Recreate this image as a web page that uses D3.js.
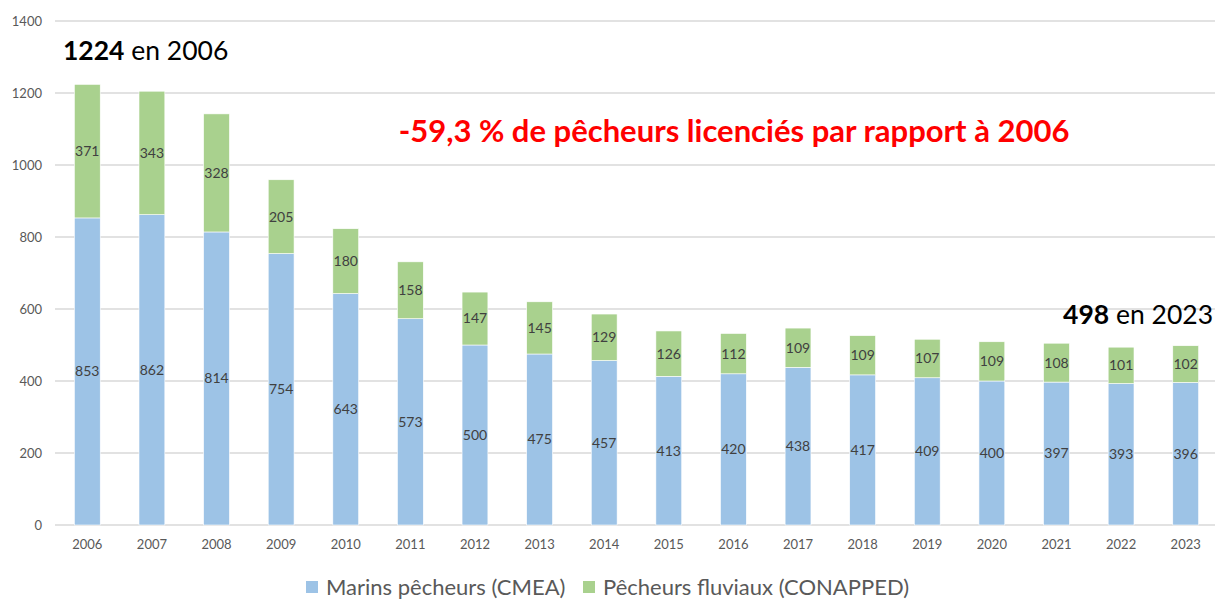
<!DOCTYPE html>
<html>
<head>
<meta charset="utf-8">
<script src="https://cdn.jsdelivr.net/npm/d3@7"></script>
<style>
  body { margin: 0; background: #fff; }
  svg text { font-family: Lato, "Open Sans", sans-serif; }
</style>
</head>
<body>
<div id="chart"></div>
<script>
// data
var years = ['2006','2007','2008','2009','2010','2011','2012','2013','2014','2015','2016','2017','2018','2019','2020','2021','2022','2023'];
var marins = [853, 862, 814, 754, 643, 573, 500, 475, 457, 413, 420, 438, 417, 409, 400, 397, 393, 396];
var fluviaux = [371, 343, 328, 205, 180, 158, 147, 145, 129, 126, 112, 109, 109, 107, 109, 108, 101, 102];
var yTicks = [0, 200, 400, 600, 800, 1000, 1200, 1400];
var seriesNames = ['Marins pêcheurs (CMEA)', 'Pêcheurs fluviaux (CONAPPED)'];
var colors = ['#9dc3e6', '#a9d18e'];

var width = 1215, height = 599;

var svg = d3.select('#chart')
  .append('svg')
  .attr('width', width)
  .attr('height', height);

var x = d3.scaleBand()
  .domain(years)
  .range([55, 1218])
  .paddingInner(0.6)
  .paddingOuter(0.3);

var y = d3.scaleLinear()
  .domain([0, 1400])
  .range([525, 21]);

// gridlines
svg.append('g')
  .selectAll('line')
  .data(yTicks)
  .enter()
  .append('line')
  .attr('x1', 55)
  .attr('x2', width)
  .attr('y1', d => y(d))
  .attr('y2', d => y(d))
  .style('stroke', '#d9d9d9')
  .style('stroke-width', 1.5);

// y axis labels
var yAxis = d3.axisLeft(y).tickValues(yTicks).tickFormat(d3.format('d')).tickSize(0).tickPadding(0);
svg.append('g')
  .attr('transform', 'translate(42,0)')
  .call(yAxis)
  .call(g => g.select('.domain').remove())
  .selectAll('text')
  .style('font-size', '13px')
  .style('fill', '#595959');

// x axis labels
var xAxis = d3.axisBottom(x).tickSize(0).tickPadding(0);
svg.append('g')
  .attr('transform', 'translate(0,540)')
  .call(xAxis)
  .call(g => g.select('.domain').remove())
  .selectAll('text')
  .style('font-size', '13px')
  .style('fill', '#595959');

// stacked data
var rows = years.map((yr, i) => ({ year: yr, marins: marins[i], fluviaux: fluviaux[i] }));
var stack = d3.stack().keys(['marins', 'fluviaux'])(rows);

var layers = svg.selectAll('g.layer')
  .data(stack)
  .enter()
  .append('g')
  .attr('class', 'layer')
  .style('fill', (d, i) => colors[i]);

layers.selectAll('rect')
  .data(d => d)
  .enter()
  .append('rect')
  .attr('x', d => x(d.data.year))
  .attr('width', x.bandwidth())
  .attr('y', d => y(d[1]))
  .attr('height', d => y(d[0]) - y(d[1]))
  .style('stroke', '#fff')
  .style('stroke-width', 0.6);

layers.selectAll('text')
  .data(d => d.map(p => ({ p: p, v: p[1] - p[0] })))
  .enter()
  .append('text')
  .attr('x', d => x(d.p.data.year) + x.bandwidth() / 2)
  .attr('y', d => y((d.p[0] + d.p[1]) / 2))
  .attr('dy', '0.35em')
  .attr('text-anchor', 'middle')
  .style('font-size', '14px')
  .style('fill', '#404040')
  .text(d => d.v);

// annotations
var first = svg.append('text')
  .attr('x', 63)
  .attr('y', 60)
  .style('font-size', '26.5px')
  .style('fill', '#000');
first.append('tspan').style('font-weight', 'bold').text(marins[0] + fluviaux[0]);
first.append('tspan').text(' en ' + years[0]);

var n = years.length - 1;
var last = svg.append('text')
  .attr('x', 1213)
  .attr('y', 324)
  .attr('text-anchor', 'end')
  .style('font-size', '26.5px')
  .style('fill', '#000');
last.append('tspan').style('font-weight', 'bold').text(marins[n] + fluviaux[n]);
last.append('tspan').text(' en ' + years[n]);

svg.append('text')
  .attr('x', 734)
  .attr('y', 142)
  .attr('text-anchor', 'middle')
  .style('font-size', '31px')
  .style('font-weight', 'bold')
  .style('fill', '#ff0000')
  .text('-59,3 % de pêcheurs licenciés par rapport à 2006');

// legend
var legend = svg.append('g');
var legendX = [306, 583];
seriesNames.forEach(function(name, i) {
  legend.append('rect')
    .attr('x', legendX[i])
    .attr('y', 581)
    .attr('width', 12)
    .attr('height', 12)
    .style('fill', colors[i]);
  legend.append('text')
    .attr('x', legendX[i] + 20)
    .attr('y', 595)
    .style('font-size', '22px')
    .style('fill', '#595959')
    .text(name);
});
</script>
</body>
</html>
